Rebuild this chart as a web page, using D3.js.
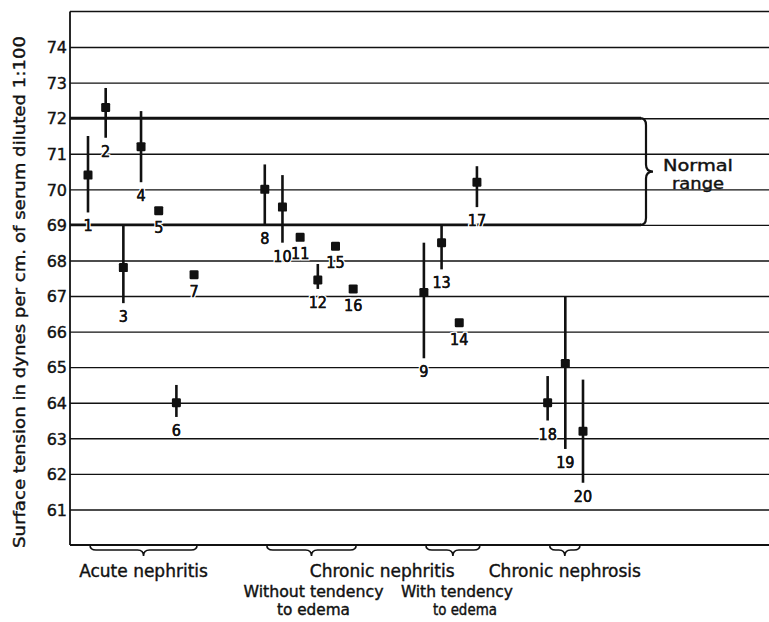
<!DOCTYPE html>
<html>
<head>
<meta charset="utf-8">
<script src="https://cdn.jsdelivr.net/npm/d3@7"></script>
<style>
  html, body { margin: 0; padding: 0; background: #fff; }
  svg { display: block; }
  text { fill: #111; }
</style>
</head>
<body>
<svg id="chart" width="769" height="622"></svg>
<script>
// ---------- data ----------
const caseIds   = [1, 2, 3, 4, 5, 6, 7, 8, 10, 11, 12, 15, 16, 9, 13, 14, 17, 18, 19, 20];
const caseSlots = [0, 1, 2, 3, 4, 5, 6, 10, 11, 12, 13, 14, 15, 19, 20, 21, 22, 26, 27, 28];
const caseGroup = [0, 0, 0, 0, 0, 0, 0, 1, 1, 1, 1, 1, 1, 2, 2, 2, 2, 3, 3, 3];
const tension   = [70.4, 72.3, 67.8, 71.2, 69.4, 64.0, 67.6, 70.0, 69.5, 68.65, 67.45, 68.4, 67.2, 67.1, 68.5, 66.25, 70.2, 64.0, 65.1, 63.2];
const tensionLow  = [69.35, 71.45, 66.8, 70.2, null, 63.6, null, 69.0, 68.5, null, 67.2, null, null, 65.25, 67.75, null, 69.5, 63.5, 62.7, 61.75];
const tensionHigh = [71.5, 72.85, 69.0, 72.2, null, 64.5, null, 70.7, 70.4, null, 67.9, null, null, 68.5, 69.0, null, 70.65, 64.75, 67.0, 64.65];
const yTicks = [61, 62, 63, 64, 65, 66, 67, 68, 69, 70, 71, 72, 73, 74];
const normalRange = [69, 72];
const normalLabel = ["Normal", "range"];
const yTitle = "Surface tension in dynes per cm. of serum diluted 1:100";
const groupMain = ["Acute nephritis", "Chronic nephritis", "Chronic nephrosis"];
const groupSub1 = ["Without tendency", "to edema"];
const groupSub2 = ["With tendency", "to edema"];

// ---------- layout ----------
const svg = d3.select("#chart");
const W = 769;
const frameL = 70, frameT = 12, frameB = 545;
const y = d3.scaleLinear().domain([60, 75]).range([frameB, frameT - 0.5]);
const x = d3.scaleLinear().domain([0, 28]).range([88, 583]);
const ink = "#111";
const font = "'DejaVu Sans', sans-serif";
const narrow = "'Liberation Sans Narrow', 'DejaVu Sans Condensed', sans-serif";

// gridlines via axis
const grid = svg.append("g").attr("transform", `translate(${frameL},0)`)
  .call(d3.axisLeft(y).tickValues(yTicks).tickSize(-(W - frameL)).tickFormat(""));
grid.select(".domain").remove();
grid.selectAll(".tick line").attr("stroke", ink).attr("stroke-width", 1.4);

// tick labels via axis
const yAx = svg.append("g").attr("transform", `translate(${frameL - 3},0)`)
  .call(d3.axisLeft(y).tickValues(yTicks).tickSize(0).tickPadding(0).tickFormat(d3.format("d")));
yAx.select(".domain").remove();
yAx.selectAll(".tick text").attr("font-family", font).attr("font-size", 16)
  .attr("fill", ink).attr("stroke", ink).attr("stroke-width", 0.4).attr("dy", "0.36em");

// frame: top, left, bottom
svg.append("line").attr("x1", frameL).attr("x2", W).attr("y1", y(75)).attr("y2", y(75))
  .attr("stroke", ink).attr("stroke-width", 1.6);
svg.append("line").attr("x1", frameL).attr("x2", frameL).attr("y1", y(75)).attr("y2", y(60))
  .attr("stroke", ink).attr("stroke-width", 1.8);
svg.append("line").attr("x1", frameL).attr("x2", W).attr("y1", y(60)).attr("y2", y(60))
  .attr("stroke", ink).attr("stroke-width", 1.8);

// normal range bold lines + brace
const braceX = 646;
svg.selectAll(".normline").data(normalRange).join("line")
  .attr("x1", frameL).attr("x2", braceX - 5)
  .attr("y1", d => y(d)).attr("y2", d => y(d))
  .attr("stroke", ink).attr("stroke-width", 2.8);
{
  const yt = y(normalRange[1]), yb = y(normalRange[0]), ym = (yt + yb) / 2;
  const p = d3.path();
  p.moveTo(braceX - 6, yt);
  p.quadraticCurveTo(braceX, yt, braceX, yt + 7);
  p.lineTo(braceX, ym - 7);
  p.quadraticCurveTo(braceX, ym, braceX + 7, ym);
  p.quadraticCurveTo(braceX, ym, braceX, ym + 7);
  p.lineTo(braceX, yb - 7);
  p.quadraticCurveTo(braceX, yb, braceX - 6, yb);
  svg.append("path").attr("d", p.toString()).attr("fill", "none")
    .attr("stroke", ink).attr("stroke-width", 2.2);
  svg.selectAll(".normlabel").data(normalLabel).join("text")
    .attr("x", 698).attr("y", (d, i) => ym - 1 + i * 18)
    .attr("text-anchor", "middle").attr("font-family", font).attr("font-size", 15)
    .attr("textLength", (d, i) => i === 0 ? 70 : 52).attr("lengthAdjust", "spacingAndGlyphs")
    .attr("stroke", ink).attr("stroke-width", 0.4)
    .text(d => d);
}

// y-axis title
svg.append("text")
  .attr("transform", `translate(25, ${(y(60) + 33) / 2 + 3}) rotate(-90)`)
  .attr("text-anchor", "middle").attr("font-family", font).attr("font-size", 16)
  .attr("textLength", 512).attr("lengthAdjust", "spacingAndGlyphs")
  .attr("stroke", ink).attr("stroke-width", 0.4)
  .text(yTitle);

// error bars
const idx = d3.range(caseIds.length);
svg.selectAll(".bar").data(idx.filter(i => tensionLow[i] != null)).join("line")
  .attr("x1", i => x(caseSlots[i])).attr("x2", i => x(caseSlots[i]))
  .attr("y1", i => y(tensionLow[i])).attr("y2", i => y(tensionHigh[i]))
  .attr("stroke", ink).attr("stroke-width", 2.6);

// markers
const ms = 9;
svg.selectAll(".mark").data(idx).join("rect")
  .attr("x", i => x(caseSlots[i]) - ms / 2).attr("y", i => y(tension[i]) - ms / 2)
  .attr("width", ms).attr("height", ms).attr("rx", 1.2).attr("fill", ink);

// case number labels
const labY = i => tensionLow[i] != null ? y(tensionLow[i]) + 19 : y(tension[i]) + 22;
svg.selectAll(".clabel").data(idx).join("text")
  .attr("x", i => x(caseSlots[i])).attr("y", labY)
  .attr("text-anchor", "middle").attr("font-family", narrow).attr("font-size", 16)
  .attr("stroke", "#fff").attr("stroke-width", 3).attr("paint-order", "stroke")
  .text(i => caseIds[i]);
svg.selectAll(".clabel2").data(idx).join("text")
  .attr("x", i => x(caseSlots[i])).attr("y", labY)
  .attr("text-anchor", "middle").attr("font-family", narrow).attr("font-size", 16)
  .attr("stroke", ink).attr("stroke-width", 0.4)
  .text(i => caseIds[i]);

// group braces under axis
const groups = d3.range(4).map(g => {
  const s = caseSlots.filter((_, i) => caseGroup[i] === g);
  const x0 = x(d3.min(s)) + 2, x1 = x(d3.max(s)) + (g === 3 ? -3 : 3);
  return { x0, x1, mid: (x0 + x1) / 2 };
});
const by = y(60), bd = 5, ba = 11;
svg.selectAll(".gbrace").data(groups).join("path")
  .attr("d", g => {
    const p = d3.path();
    p.moveTo(g.x0, by);
    p.quadraticCurveTo(g.x0, by + bd, g.x0 + 6, by + bd);
    p.lineTo(g.mid - 6, by + bd);
    p.quadraticCurveTo(g.mid, by + bd, g.mid, by + ba);
    p.quadraticCurveTo(g.mid, by + bd, g.mid + 6, by + bd);
    p.lineTo(g.x1 - 6, by + bd);
    p.quadraticCurveTo(g.x1, by + bd, g.x1, by);
    return p.toString();
  })
  .attr("fill", "none").attr("stroke", ink).attr("stroke-width", 1.6);

const mainX = [groups[0].mid, (groups[1].mid + groups[2].mid) / 2, groups[3].mid];
const gt = svg.append("g").attr("font-family", font)
  .attr("text-anchor", "middle").attr("stroke", ink).attr("stroke-width", 0.4);
gt.selectAll(".gm").data(groupMain).join("text")
  .attr("x", (d, i) => mainX[i]).attr("y", 577).attr("font-size", 17).text(d => d);
gt.selectAll(".gs1").data(groupSub1).join("text")
  .attr("x", groups[1].mid + 2).attr("y", (d, i) => 597 + i * 18)
  .attr("font-size", 15).attr("textLength", (d, i) => i === 0 ? 140 : 73)
  .attr("lengthAdjust", "spacingAndGlyphs").text(d => d);
gt.selectAll(".gs2").data(groupSub2).join("text")
  .attr("x", (d, i) => groups[2].mid + 4 + i * 8).attr("y", (d, i) => 597 + i * 18)
  .attr("font-size", 15).attr("textLength", (d, i) => i === 0 ? 112 : 64)
  .attr("lengthAdjust", "spacingAndGlyphs").text(d => d);
</script>
</body>
</html>
